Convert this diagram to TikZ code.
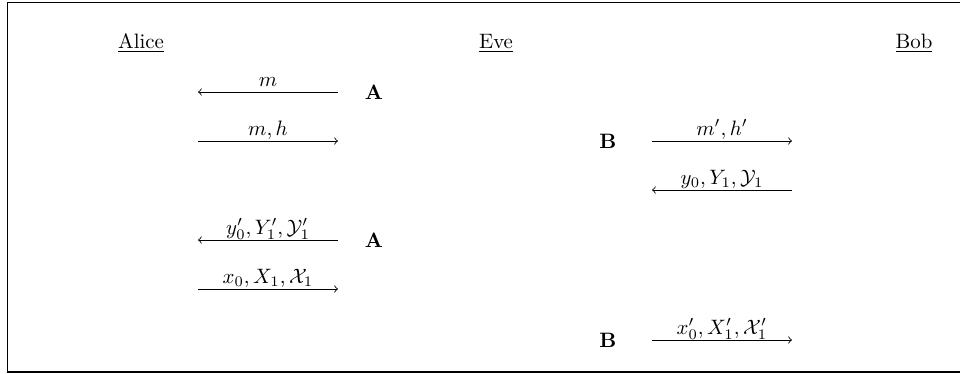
\documentclass[tikz,border=0pt]{standalone}
\begin{document}
\begin{tikzpicture}[x=0.48pt,y=-0.48pt,
  party/.style={anchor=base,inner sep=0pt},
  tag/.style={anchor=center,inner sep=0pt,font=\bfseries},
  msg/.style={line width=0.4pt},
  lbl/.style={anchor=base,yshift=2.7pt,inner sep=0pt}]
\useasboundingbox (0,0) rectangle (960,373);
% open frame
\draw[line width=0.5pt] (960,2.5) -- (7.5,2.5) -- (7.5,372) -- (960,372);

% parties
\node[party] (alice) at (141,48) {\underline{Alice}};
\node[party] (eve)   at (496,48) {\underline{Eve}};
\node[party] (bob)   at (914,48) {\underline{Bob}};

% Alice side endpoints
\coordinate (l1a) at (198,92);  \coordinate (l1b) at (338,92);
\coordinate (l2a) at (198,141); \coordinate (l2b) at (338,141);
\coordinate (l4a) at (198,240); \coordinate (l4b) at (338,240);
\coordinate (l5a) at (198,289); \coordinate (l5b) at (338,289);
% Bob side endpoints
\coordinate (r2a) at (652,141); \coordinate (r2b) at (792,141);
\coordinate (r3a) at (652,190); \coordinate (r3b) at (792,190);
\coordinate (r6a) at (652,340); \coordinate (r6b) at (792,340);

% markers
\node[tag] (a1) at (374,92)  {A};
\node[tag] (b1) at (608,141) {B};
\node[tag] (a2) at (374,240) {A};
\node[tag] (b2) at (608,340) {B};

% messages
\draw[msg,<-] (l1a) -- node[lbl] {$m$} (l1b);
\draw[msg,->] (l2a) -- node[lbl] {$m,h$} (l2b);
\draw[msg,->] (r2a) -- node[lbl] {$m',h'$} (r2b);
\draw[msg,<-] (r3a) -- node[lbl] {$y_0,Y_1,\mathcal{Y}_1$} (r3b);
\draw[msg,<-] (l4a) -- node[lbl] {$y'_0,Y'_1,\mathcal{Y}'_1$} (l4b);
\draw[msg,->] (l5a) -- node[lbl] {$x_0,X_1,\mathcal{X}_1$} (l5b);
\draw[msg,->] (r6a) -- node[lbl] {$x'_0,X'_1,\mathcal{X}'_1$} (r6b);
\end{tikzpicture}
\end{document}
